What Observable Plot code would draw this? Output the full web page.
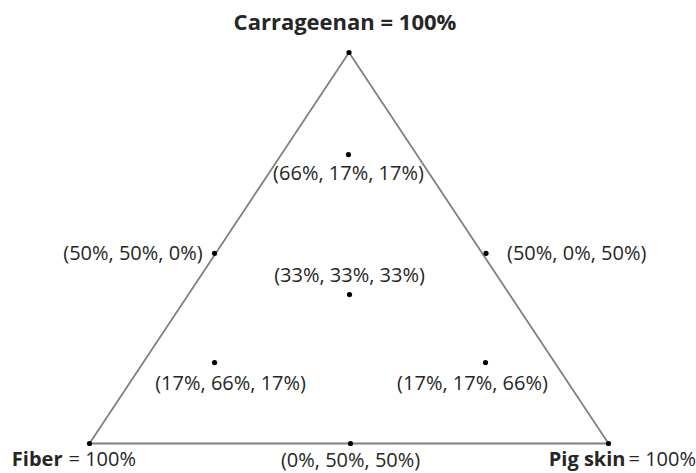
<!DOCTYPE html>
<html>
<head>
<meta charset="utf-8">
<script src="https://cdn.jsdelivr.net/npm/d3@7"></script>
<script src="https://cdn.jsdelivr.net/npm/@observablehq/plot@0.6"></script>
<style>
  html, body { margin: 0; padding: 0; background: #fff; }
  #chart svg { display: block; }
</style>
</head>
<body>
<div id="chart"></div>
<script>
// Mixture compositions (Carrageenan, Fiber, Pig skin), in %
const carrageenan = [66, 50, 50, 33, 17, 17, 0];
const fiber       = [17, 50, 0, 33, 66, 17, 50];
const pigSkin     = [17, 0, 50, 33, 17, 66, 50];
// Where each mixture sits in the drawn triangle (0–1 across the base, 0–1 of the height)
const across = [0.499, 0.241, 0.764, 0.501, 0.241, 0.763, 0.503];
const up     = [0.739, 0.486, 0.486, 0.381, 0.207, 0.207, 0.0];
// Label placement relative to each point
const labelSide = ["below", "left", "right", "above", "belowRight", "belowLeft", "bottom"];

// Pure components (triangle corners)
const vertexNames  = ["Carrageenan", "Fiber", "Pig skin"];
const vertexAcross = [0.5, 0, 1];
const vertexUp     = [1, 0, 0];

const vertices = vertexNames.map((name, i) => ({name, x: vertexAcross[i], y: vertexUp[i]}));
const outline = [...vertices, vertices[0]];
const mixes = carrageenan.map((c, i) => ({
  label: `(${c}%, ${fiber[i]}%, ${pigSkin[i]}%)`,
  x: across[i], y: up[i], side: labelSide[i]
}));

const font = "'Open Sans', 'DejaVu Sans', sans-serif";
const fs = 20;
const ink = "#262626";
const txt = (side, opts) => Plot.text(mixes.filter(d => d.side === side), {
  x: "x", y: "y", text: "label", fontSize: fs, fill: ink, ...opts
});
const corner = (name) => vertices.filter(d => d.name === name);

const chart = Plot.plot({
  width: 696,
  height: 473,
  marginLeft: 89,
  marginRight: 88,
  marginTop: 52,
  marginBottom: 30,
  style: {fontFamily: font, background: "#fff"},
  x: {domain: [0, 1], axis: null},
  y: {domain: [0, 1], axis: null},
  marks: [
    Plot.line(outline, {x: "x", y: "y", stroke: "#808080", strokeWidth: 1.8}),
    Plot.dot(vertices, {x: "x", y: "y", r: 2.6, fill: "#000"}),
    Plot.dot(mixes, {x: "x", y: "y", r: 2.6, fill: "#000"}),
    txt("below", {dy: 19}),
    txt("bottom", {dy: 17}),
    txt("above", {dy: -19}),
    txt("left", {textAnchor: "end", dx: -12}),
    txt("right", {textAnchor: "start", dx: 21}),
    txt("belowRight", {dx: 16, dy: 21}),
    txt("belowLeft", {dx: -13, dy: 21}),
    // Corner labels
    Plot.text(corner("Carrageenan"), {
      x: "x", y: "y", text: d => `${d.name} = 100%`, fontSize: 22, fontWeight: "bold", fill: ink, dx: -4, dy: -30
    }),
    Plot.text(corner("Fiber"), {
      x: "x", y: "y", text: "name", fontSize: fs, fontWeight: "bold", fill: ink, textAnchor: "end", dx: -27, dy: 16
    }),
    Plot.text(corner("Fiber"), {
      x: "x", y: "y", text: d => "= 100%", fontSize: fs, fill: ink, textAnchor: "start", dx: -21, dy: 16
    }),
    Plot.text(corner("Pig skin"), {
      x: "x", y: "y", text: "name", fontSize: fs, fontWeight: "bold", fill: ink, textAnchor: "end", dx: 17, dy: 16
    }),
    Plot.text(corner("Pig skin"), {
      x: "x", y: "y", text: d => "= 100%", fontSize: fs, fill: ink, textAnchor: "start", dx: 20, dy: 16
    })
  ]
});
document.getElementById("chart").appendChild(chart);
</script>
</body>
</html>
